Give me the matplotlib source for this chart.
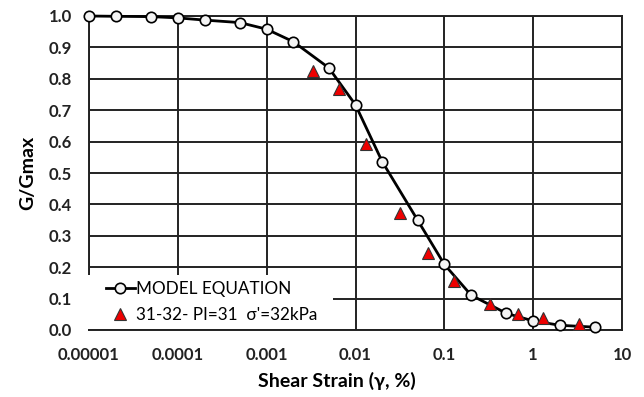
import matplotlib.pyplot as plt
from matplotlib.patches import Rectangle

plt.rcParams['font.family'] = ['Lato', 'DejaVu Sans']

# modellkurve (G/Gmax gegen Scherdehnung in %)
model_strain = [1e-5, 2e-5, 5e-5, 1e-4, 2e-4, 5e-4, 1e-3, 2e-3, 5e-3,
                0.01, 0.02, 0.05, 0.1, 0.2, 0.5, 1, 2, 5]
model_ratio = [1.0, 0.999, 0.998, 0.994, 0.987, 0.979, 0.958, 0.918, 0.835,
               0.717, 0.536, 0.350, 0.209, 0.111, 0.053, 0.029, 0.015, 0.009]

# messwerte 31-32
test_strain = [3.3e-3, 6.5e-3, 0.0132, 0.032, 0.065, 0.127, 0.33, 0.67, 1.3, 3.3]
test_ratio = [0.824, 0.767, 0.592, 0.372, 0.246, 0.156, 0.084, 0.052, 0.037, 0.018]

x_ticks = [1e-5, 1e-4, 1e-3, 1e-2, 1e-1, 1, 10]
x_labels = ['0.00001', '0.0001', '0.001', '0.01', '0.1', '1', '10']
y_ticks = [i / 10 for i in range(11)]

fig = plt.figure(figsize=(6.44, 3.97), dpi=100)
ax = fig.add_axes([89 / 644, 1 - 330 / 397, (622 - 89) / 644, (330 - 16) / 397])

ax.plot(model_strain, model_ratio, color='black', lw=2, marker='o', ms=7.5,
        mfc='#f4f4f4', mec='black', mew=1.2, label='MODEL EQUATION',
        zorder=4, clip_on=False)
ax.plot(test_strain, test_ratio, ls='none', marker='^', ms=8, mfc='#ee0000',
        mec='#333333', mew=0.8, label="31-32- PI=31  σ'=32kPa", zorder=5)

ax.set_xscale('log')
ax.set_xlim(1e-5, 10)
ax.set_ylim(0, 1.0)
ax.set_xticks(x_ticks)
ax.set_xticklabels(x_labels)
ax.minorticks_off()
ax.set_yticks(y_ticks)
ax.set_yticklabels([f'{v:.1f}' for v in y_ticks])

ax.grid(True, color='#222222', lw=1.4)
for s in ax.spines.values():
    s.set_color('#222222')
    s.set_linewidth(1.4)
ax.tick_params(length=0, labelsize=12)
ax.tick_params(axis='x', pad=12)
ax.tick_params(axis='y', pad=12)
for lab in ax.get_xticklabels() + ax.get_yticklabels():
    lab.set_fontweight('bold')
    lab.set_color('#222222')

ax.set_xlabel('Shear Strain (γ, %)', fontsize=14, fontweight='bold')
ax.xaxis.set_label_coords(0.465, -0.135)
ax.set_ylabel('G/Gmax', fontsize=14, fontweight='bold', labelpad=9)

# weisser hintergrund der legende (deckt gitter ab)
ax.add_patch(Rectangle((-0.006, 0.004), 0.464, 0.171, transform=ax.transAxes,
                       facecolor='white', edgecolor='none', zorder=6, clip_on=False))

leg = ax.legend(loc='center left', bbox_to_anchor=(0.032, 0.089), fontsize=12.3,
                frameon=False, borderpad=0, borderaxespad=0, handlelength=1.67,
                handletextpad=0.1, labelspacing=0.6)
leg.set_zorder(10)

fig.savefig('out.png', dpi=100)
